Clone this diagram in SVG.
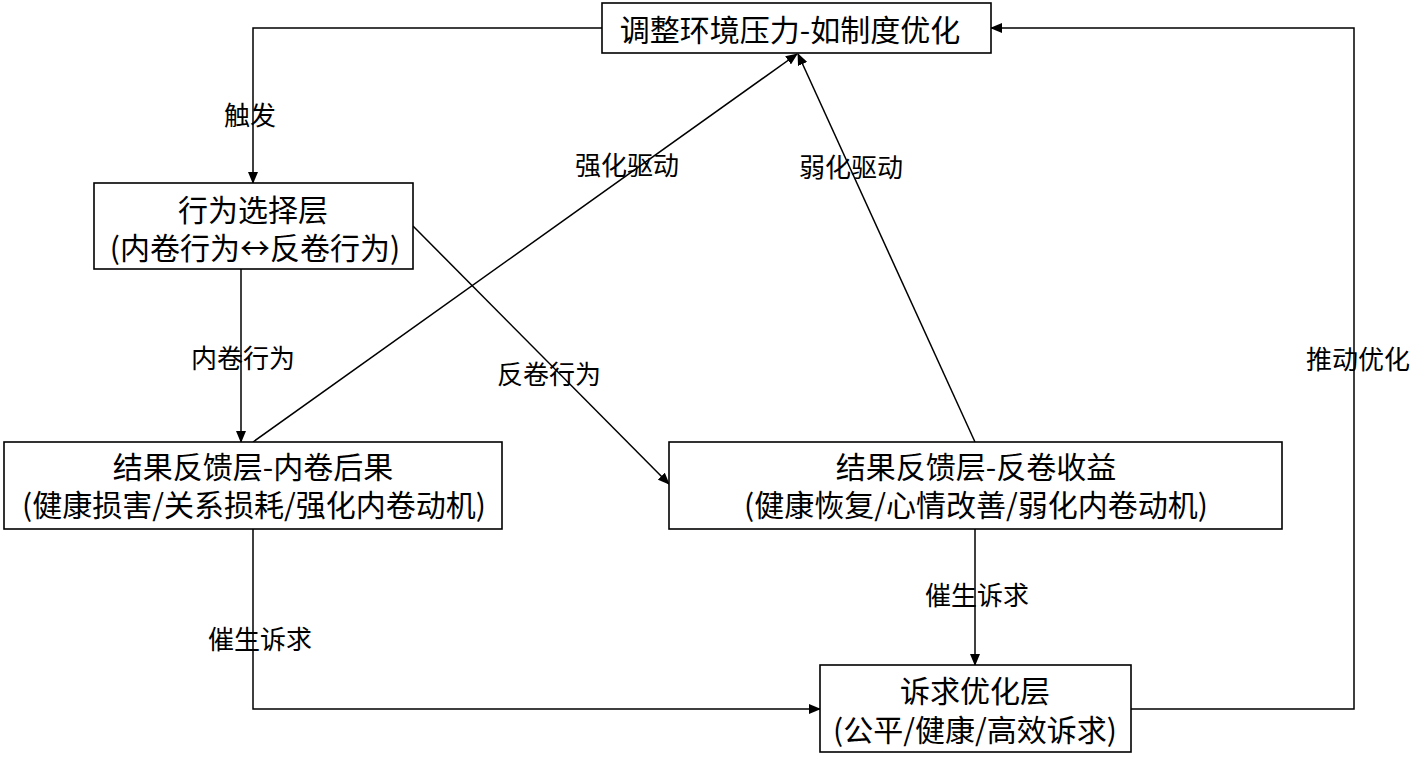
<svg xmlns="http://www.w3.org/2000/svg" width="1417" height="757" viewBox="0 0 1417 757">
<defs>
<marker id="ah" markerWidth="12" markerHeight="10" refX="11" refY="5" orient="auto" markerUnits="userSpaceOnUse">
<path d="M0,0 L12,5 L0,10 Z" fill="#000"/>
</marker>
<style>
.box{fill:#fff;stroke:#000;stroke-width:1.6}
.t{font-family:"Noto Sans CJK SC","Noto Sans",sans-serif;font-size:30px;fill:#000;text-anchor:middle;dominant-baseline:central}
.l{font-family:"Noto Sans CJK SC","Noto Sans",sans-serif;font-size:26px;fill:#000;text-anchor:middle;dominant-baseline:central}
.c{fill:none;stroke:#000;stroke-width:1.5;marker-end:url(#ah)}
</style>
</defs>
<rect width="1417" height="757" fill="#fff"/>
<g id="connectors">
<path class="c" d="M602,28 H253 V183"/>
<path class="c" d="M241,269 V442"/>
<path class="c" d="M413,226 L669,484"/>
<path class="c" d="M253,442 L797,54"/>
<path class="c" d="M975,442 L798,54"/>
<path class="c" d="M253,529 V709 H820"/>
<path class="c" d="M975,529 V665"/>
<path class="c" d="M1131,709 H1354 V28 H991"/>
<text class="l" x="250" y="113">触发</text>
<text class="l" x="243" y="356">内卷行为</text>
<text class="l" x="549" y="372">反卷行为</text>
<text class="l" x="627" y="163">强化驱动</text>
<text class="l" x="851" y="165">弱化驱动</text>
<text class="l" x="260" y="637">催生诉求</text>
<text class="l" x="977" y="593">催生诉求</text>
<text class="l" x="1358" y="357">推动优化</text>
</g>
<g id="top">
<rect class="box" x="602" y="3" width="389" height="50"/>
<text class="t" x="790" y="28">调整环境压力-如制度优化</text>
</g>
<g id="choice">
<rect class="box" x="94" y="183" width="319" height="86"/>
<text class="t" x="253" y="208">行为选择层</text>
<text class="t" x="255" y="246">(内卷行为↔反卷行为)</text>
</g>
<g id="inv">
<rect class="box" x="4" y="442" width="498" height="87"/>
<text class="t" x="253" y="465">结果反馈层-内卷后果</text>
<text class="t" x="254" y="503">(健康损害/关系损耗/强化内卷动机)</text>
</g>
<g id="anti">
<rect class="box" x="669" y="442" width="613" height="87"/>
<text class="t" x="976" y="465">结果反馈层-反卷收益</text>
<text class="t" x="976" y="503">(健康恢复/心情改善/弱化内卷动机)</text>
</g>
<g id="demand">
<rect class="box" x="820" y="665" width="311" height="87"/>
<text class="t" x="975" y="689">诉求优化层</text>
<text class="t" x="975" y="728">(公平/健康/高效诉求)</text>
</g>
</svg>
